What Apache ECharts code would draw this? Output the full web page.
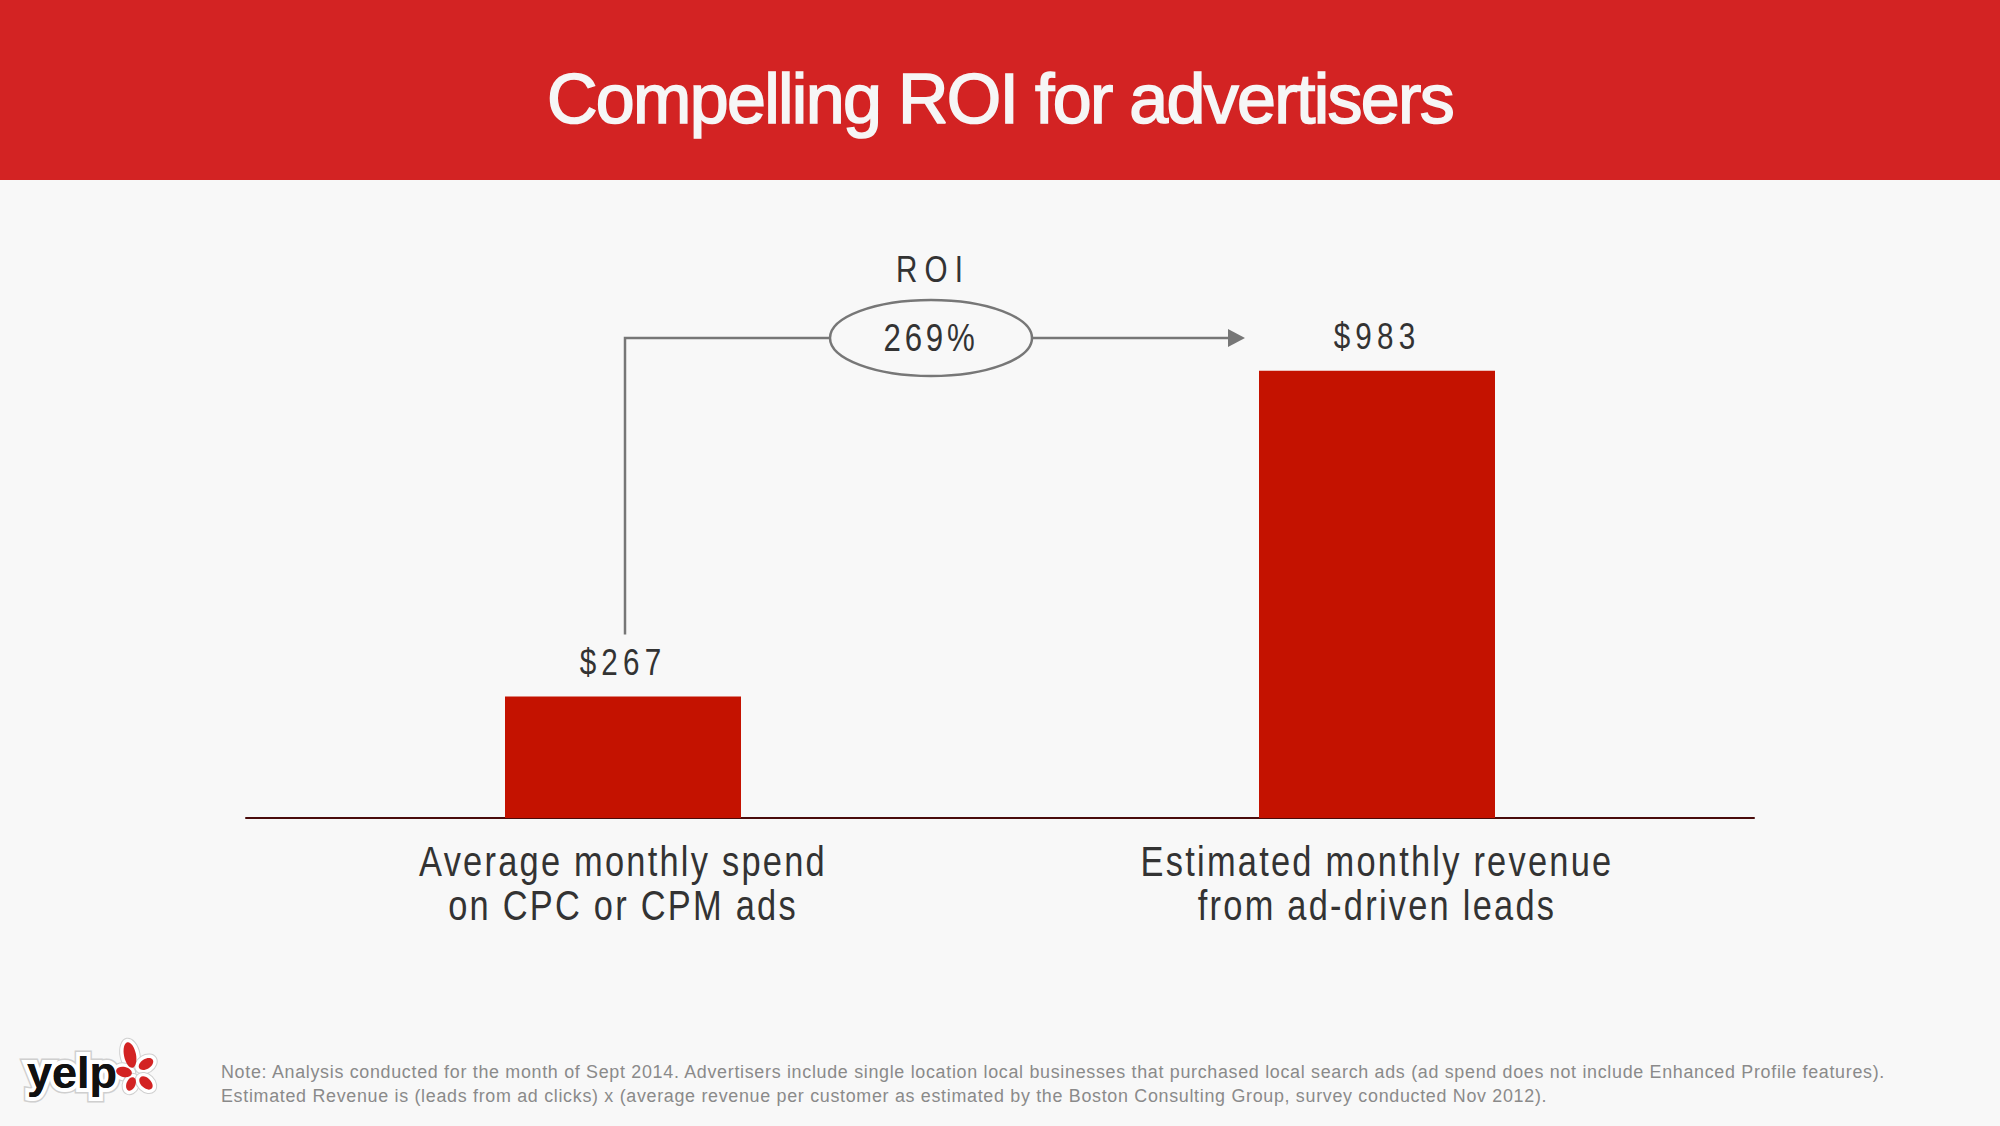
<!DOCTYPE html>
<html><head><meta charset="utf-8">
<script src="https://cdn.jsdelivr.net/npm/echarts@6/dist/echarts.min.js"></script>
<style>
html,body{margin:0;padding:0;background:#f8f8f8;}
#c{width:2000px;height:1126px;}
#c text[style*="CatLbl"]{letter-spacing:2.8px;}
#c text[style*="ValLbl"]{letter-spacing:6.5px;}
#c text[style*="RoiT"]{letter-spacing:9px;}
#c text[style*="RoiV"]{letter-spacing:4.7px;}
#c text[style*="NoteF"]{letter-spacing:0.7px;}
#c text[style*="TitleF"]{letter-spacing:-1.7px;}
</style>
</head><body><div id="c"></div>
<script>
const titleText = 'Compelling ROI for advertisers';
const categories = ['Average monthly spend\non CPC or CPM ads', 'Estimated monthly revenue\nfrom ad-driven leads'];
const values = [267, 983];
const roiTitle = 'ROI';
const roiValue = '269%';
const noteLines = [
  'Note: Analysis conducted for the month of Sept 2014. Advertisers include single location local businesses that purchased local search ads (ad spend does not include Enhanced Profile features).',
  'Estimated Revenue is (leads from ad clicks) x (average revenue per customer as estimated by the Boston Consulting Group, survey conducted Nov 2012).'
];

function fam(tag) { return "'Liberation Sans', " + tag + ", Arial, sans-serif"; }
const chart = echarts.init(document.getElementById('c'), null, {renderer: 'svg'});

chart.setOption({
  backgroundColor: '#f8f8f8',
  animation: false,
  grid: {left: 246, right: 246, top: 363, bottom: 308},
  xAxis: {
    type: 'category', data: categories,
    axisLine: {lineStyle: {color: '#4a0c0c', width: 2}},
    axisTick: {show: false},
    axisLabel: {margin: 21, fontSize: 43, lineHeight: 44, color: '#333', fontFamily: fam('CatLbl')}
  },
  yAxis: {type: 'value', min: 0, max: 1000, show: false},
  series: [{
    type: 'bar', data: values, barWidth: 236,
    itemStyle: {color: '#c41200'},
    label: {show: true, position: 'top', distance: 16, fontSize: 37, color: '#333', fontFamily: fam('ValLbl'),
      formatter: function (p) { return '$' + p.value; }}
  }]
});

function draw() {
  const p0 = chart.convertToPixel({seriesIndex: 0}, [0, values[0]]);
  const p1 = chart.convertToPixel({seriesIndex: 0}, [1, values[1]]);
  const lineY = 338;
  const startX = p0[0] + 2;
  const startY = p0[1] - 62;
  const tipX = p1[0] - 132;
  const midX = (startX + tipX) / 2 - 4;
  const rx = 101, ry = 38;
  const gray = '#777';
  const els = [
    {type: 'rect', shape: {x: 0, y: 0, width: 2000, height: 180}, style: {fill: '#d32323'}, z: 1},
    {type: 'text', x: 1000, y: 99, z: 2, style: {text: titleText, fill: '#f6f6f6', font: '70px ' + fam('TitleF'),
      align: 'center', verticalAlign: 'middle', stroke: '#f6f6f6', lineWidth: 1.6}},
    {type: 'polyline', z: 3, shape: {points: [[startX, startY], [startX, lineY], [midX - rx, lineY]]}, style: {stroke: gray, lineWidth: 2.5, fill: null}},
    {type: 'line', z: 3, shape: {x1: midX + rx, y1: lineY, x2: tipX - 16, y2: lineY}, style: {stroke: gray, lineWidth: 2.5}},
    {type: 'polygon', z: 3, shape: {points: [[tipX - 17, lineY - 9], [tipX, lineY], [tipX - 17, lineY + 9]]}, style: {fill: gray}},
    {type: 'ellipse', z: 3, shape: {cx: midX, cy: lineY, rx: rx, ry: ry}, style: {fill: '#f8f8f8', stroke: gray, lineWidth: 2.5}},
    {type: 'text', z: 4, x: midX, y: 337, style: {text: roiValue, font: '39px ' + fam('RoiV'), fill: '#333', align: 'center', verticalAlign: 'middle'}},
    {type: 'text', z: 4, x: midX + 2, y: 269, style: {text: roiTitle, font: '37px ' + fam('RoiT'), fill: '#333', align: 'center', verticalAlign: 'middle'}},
    {type: 'text', z: 4, x: 221, y: 1072, style: {text: noteLines[0], font: '18px ' + fam('NoteF'), fill: '#8a8a8a', align: 'left', verticalAlign: 'middle'}},
    {type: 'text', z: 4, x: 221, y: 1096, style: {text: noteLines[1], font: '18px ' + fam('NoteF'), fill: '#8a8a8a', align: 'left', verticalAlign: 'middle'}},
    // yelp logo
    {type: 'text', z: 4, x: 27, y: 1072, style: {text: 'yelp', font: "bold 45px 'Liberation Sans', sans-serif", fill: '#111', stroke: '#cfcfcf', lineWidth: 11, align: 'left', verticalAlign: 'middle'}},
    {type: 'text', z: 5, x: 27, y: 1072, style: {text: 'yelp', font: "bold 45px 'Liberation Sans', sans-serif", fill: '#111', stroke: '#ffffff', lineWidth: 8, align: 'left', verticalAlign: 'middle'}},
    {type: 'text', z: 6, x: 27, y: 1072, style: {text: 'yelp', font: "bold 45px 'Liberation Sans', sans-serif", fill: '#111', align: 'left', verticalAlign: 'middle'}}
  ];
  const petals = [
    {cx: 130, cy: 1055, rx: 6, ry: 13, rot: 0.2},
    {cx: 146, cy: 1064, rx: 5, ry: 8, rot: -1.0},
    {cx: 124, cy: 1072, rx: 5, ry: 8, rot: 1.35},
    {cx: 131, cy: 1084, rx: 4.5, ry: 7, rot: -0.4},
    {cx: 146, cy: 1083, rx: 5, ry: 8, rot: 0.8}
  ];
  petals.forEach(function (pt) {
    els.push({type: 'ellipse', z: 4, x: pt.cx, y: pt.cy, rotation: pt.rot, shape: {cx: 0, cy: 0, rx: pt.rx + 4, ry: pt.ry + 4}, style: {fill: '#fff', stroke: '#cfcfcf', lineWidth: 1}});
  });
  petals.forEach(function (pt) {
    els.push({type: 'ellipse', z: 6, x: pt.cx, y: pt.cy, rotation: pt.rot, shape: {cx: 0, cy: 0, rx: pt.rx, ry: pt.ry}, style: {fill: '#d32323'}});
  });
  chart.setOption({graphic: {elements: els}});
}
draw();

// narrow the glyphs horizontally (the reference uses a condensed face)
const NOTE_WIDTH = 1664;
function squeeze() {
  const texts = Array.prototype.slice.call(document.querySelectorAll('#c svg text'));
  let noteMax = 0;
  const notes = [];
  texts.forEach(function (t) {
    const st = t.getAttribute('style') || '';
    t.removeAttribute('textLength');
    t.removeAttribute('lengthAdjust');
    if (st.indexOf('NoteF') >= 0) { notes.push(t); noteMax = Math.max(noteMax, t.getComputedTextLength()); return; }
    let f = 0;
    if (st.indexOf('CatLbl') >= 0 || st.indexOf('ValLbl') >= 0 || st.indexOf('RoiT') >= 0 || st.indexOf('RoiV') >= 0) f = 0.8;
    if (!f) return;
    const len = t.getComputedTextLength();
    t.setAttribute('textLength', (len * f).toFixed(1));
    t.setAttribute('lengthAdjust', 'spacingAndGlyphs');
  });
  const nf = noteMax ? Math.min(1, NOTE_WIDTH / noteMax) : 1;
  notes.forEach(function (t) {
    const len = t.getComputedTextLength();
    t.setAttribute('textLength', (len * nf).toFixed(1));
    t.setAttribute('lengthAdjust', 'spacingAndGlyphs');
  });
}
squeeze();
chart.on('finished', squeeze);
</script>
</body></html>
